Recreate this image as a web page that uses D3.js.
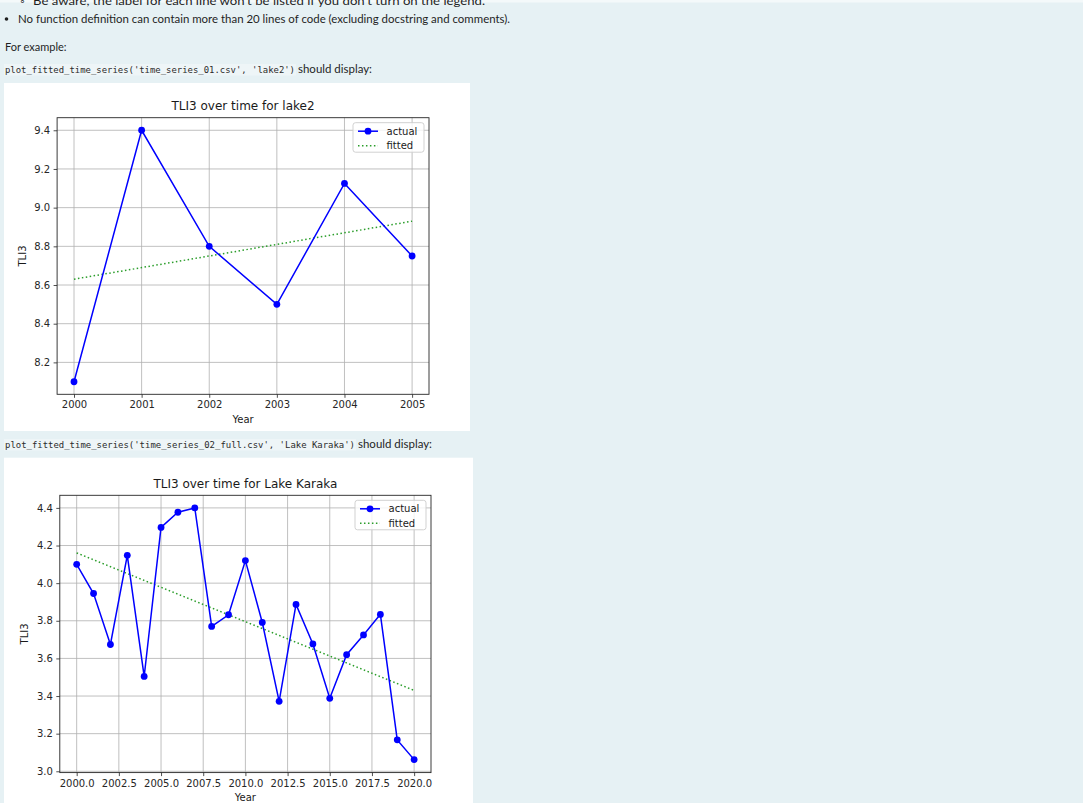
<!DOCTYPE html>
<html><head><meta charset="utf-8">
<script src="https://cdn.jsdelivr.net/npm/d3@7"></script>
<style>html,body{margin:0;padding:0;background:#e6f1f4;overflow:hidden}</style>
</head><body><svg id="c" width="1083" height="803"></svg>
<script>
// ---- Chart 1 data (lake2) ----
const years1 = [2000, 2001, 2002, 2003, 2004, 2005];
const actual1 = [8.1, 9.4, 8.8, 8.5, 9.125, 8.75];
const fittedYears1 = [2000, 2005];
const fitted1 = [8.63, 8.93];
const xTicks1 = [2000, 2001, 2002, 2003, 2004, 2005];
const xTickLabels1 = ["2000", "2001", "2002", "2003", "2004", "2005"];
const yTicks1 = [8.2, 8.4, 8.6, 8.8, 9.0, 9.2, 9.4];
const yTickLabels1 = ["8.2", "8.4", "8.6", "8.8", "9.0", "9.2", "9.4"];

// ---- Chart 2 data (Lake Karaka) ----
const years2 = [2000, 2001, 2002, 2003, 2004, 2005, 2006, 2007, 2008, 2009, 2010,
                2011, 2012, 2013, 2014, 2015, 2016, 2017, 2018, 2019, 2020];
const actual2 = [4.10, 3.945, 3.674, 4.148, 3.504, 4.296, 4.377, 4.40, 3.77, 3.832, 4.12,
                 3.791, 3.372, 3.887, 3.677, 3.388, 3.62, 3.725, 3.834, 3.167, 3.062];
const fittedYears2 = [2000, 2020];
const fitted2 = [4.161, 3.43];
const xTicks2 = [2000, 2002.5, 2005, 2007.5, 2010, 2012.5, 2015, 2017.5, 2020];
const xTickLabels2 = ["2000.0", "2002.5", "2005.0", "2007.5", "2010.0", "2012.5", "2015.0", "2017.5", "2020.0"];
const yTicks2 = [3.0, 3.2, 3.4, 3.6, 3.8, 4.0, 4.2, 4.4];
const yTickLabels2 = ["3.0", "3.2", "3.4", "3.6", "3.8", "4.0", "4.2", "4.4"];

const legendLabels = ["actual", "fitted"];

const svg = d3.select("#c");
svg.append("rect").attr("width", 1083).attr("height", 803).attr("fill", "#e6f1f4");
svg.append("rect").attr("width", 1083).attr("height", 2.5).attr("fill", "#f4f9fa");

const bodyFont = "Lato, 'Open Sans', sans-serif";
const monoFont = "'DejaVu Sans Mono', 'Liberation Mono', monospace";
const txtColor = "#1f1f1f";

// page text
svg.append("text").attr("x", 20).attr("y", 4.5).attr("font-family", bodyFont).attr("font-size", 11)
  .attr("fill", txtColor).text("◦");
svg.append("text").attr("x", 33).attr("y", 4.5).attr("font-family", bodyFont).attr("font-size", 11)
  .attr("fill", txtColor).attr("textLength", 452).attr("lengthAdjust", "spacingAndGlyphs")
  .text("Be aware, the label for each line won't be listed if you don't turn on the legend.");
svg.append("circle").attr("cx", 6.5).attr("cy", 19).attr("r", 1.8).attr("fill", txtColor);
svg.append("text").attr("x", 18).attr("y", 23).attr("font-family", bodyFont).attr("font-size", 11)
  .attr("fill", txtColor).attr("textLength", 492).attr("lengthAdjust", "spacingAndGlyphs")
  .text("No function definition can contain more than 20 lines of code (excluding docstring and comments).");
svg.append("text").attr("x", 5).attr("y", 51).attr("font-family", bodyFont).attr("font-size", 11)
  .attr("fill", txtColor)
  .text("For example:");

function codeLine(y, code, codeW, rest) {
  svg.append("rect").attr("x", 4).attr("y", y - 8.5).attr("width", codeW + 2).attr("height", 11.5)
    .attr("fill", "#eef5f7");
  svg.append("text").attr("x", 5).attr("y", y).attr("font-family", monoFont).attr("font-size", 9)
    .attr("fill", "#2b2b2b").attr("textLength", codeW).attr("lengthAdjust", "spacingAndGlyphs").text(code);
  svg.append("text").attr("x", 5 + codeW + 3).attr("y", y).attr("font-family", bodyFont).attr("font-size", 11)
    .attr("fill", txtColor).attr("textLength", 74).attr("lengthAdjust", "spacingAndGlyphs").text(rest);
}
codeLine(72.5, "plot_fitted_time_series('time_series_01.csv', 'lake2')", 290, "should display:");
codeLine(447.5, "plot_fitted_time_series('time_series_02_full.csv', 'Lake Karaka')", 350, "should display:");

function drawChart(cfg) {
  const g = svg.append("g");
  g.append("rect").attr("x", cfg.box[0]).attr("y", cfg.box[1]).attr("width", cfg.box[2]).attr("height", cfg.box[3])
    .attr("fill", "#ffffff");
  const [pl, pt, pr, pb] = cfg.plot;
  const x = d3.scaleLinear().domain(cfg.xDomain).range([pl, pr]);
  const y = d3.scaleLinear().domain(cfg.yDomain).range([pb, pt]);

  // grid
  g.append("g").selectAll("line").data(cfg.xTicks).join("line")
    .attr("x1", d => x(d)).attr("x2", d => x(d)).attr("y1", pt).attr("y2", pb)
    .attr("stroke", "#b0b0b0").attr("stroke-width", 0.8);
  g.append("g").selectAll("line").data(cfg.yTicks).join("line")
    .attr("x1", pl).attr("x2", pr).attr("y1", d => y(d)).attr("y2", d => y(d))
    .attr("stroke", "#b0b0b0").attr("stroke-width", 0.8);

  // axes
  const xa = g.append("g").attr("transform", `translate(0,${pb})`)
    .call(d3.axisBottom(x).tickValues(cfg.xTicks).tickFormat((d, i) => cfg.xLabels[i])
      .tickSize(3.5).tickPadding(3.5));
  const ya = g.append("g").attr("transform", `translate(${pl},0)`)
    .call(d3.axisLeft(y).tickValues(cfg.yTicks).tickFormat((d, i) => cfg.yLabels[i])
      .tickSize(3.5).tickPadding(3.5));
  [xa, ya].forEach(a => {
    a.select(".domain").remove();
    a.attr("font-family", "'DejaVu Sans', sans-serif").attr("font-size", 10).attr("color", "#222");
    a.selectAll("line").attr("stroke-width", 0.8);
    a.selectAll("text").attr("fill", "#262626");
  });

  const line = d3.line().x(d => x(d[0])).y(d => y(d[1]));
  // fitted
  g.append("path").datum(cfg.fittedYears.map((d, i) => [d, cfg.fitted[i]]))
    .attr("d", line).attr("fill", "none").attr("stroke", "#2a9d2a").attr("stroke-width", 1.5)
    .attr("stroke-dasharray", "1.5,2.475");
  // actual
  const pts = cfg.years.map((d, i) => [d, cfg.actual[i]]);
  g.append("path").datum(pts).attr("d", line).attr("fill", "none")
    .attr("stroke", "#0000ff").attr("stroke-width", 1.5);
  g.append("g").selectAll("circle").data(pts).join("circle")
    .attr("cx", d => x(d[0])).attr("cy", d => y(d[1])).attr("r", 3.4).attr("fill", "#0000ff");

  // spines
  g.append("rect").attr("x", pl).attr("y", pt).attr("width", pr - pl).attr("height", pb - pt)
    .attr("fill", "none").attr("stroke", "#262626").attr("stroke-width", 0.9);

  // title
  g.append("text").attr("x", (pl + pr) / 2).attr("y", pt - 7.5).attr("text-anchor", "middle")
    .attr("font-family", "'DejaVu Sans', sans-serif").attr("font-size", 12).attr("fill", "#1a1a1a")
    .text(cfg.title);
  // axis labels
  g.append("text").attr("x", (pl + pr) / 2).attr("y", pb + 28.7).attr("text-anchor", "middle")
    .attr("font-family", "'DejaVu Sans', sans-serif").attr("font-size", 10).attr("fill", "#1a1a1a")
    .text("Year");
  g.append("text").attr("transform", `translate(${pl - 31.5},${(pt + pb) / 2}) rotate(-90)`)
    .attr("text-anchor", "middle")
    .attr("font-family", "'DejaVu Sans', sans-serif").attr("font-size", 10).attr("fill", "#1a1a1a")
    .text("TLI3");

  // legend
  const lw = 71, lh = 29.5;
  const lx = pr - 5 - lw, ly = pt + 5;
  const lg = g.append("g");
  lg.append("rect").attr("x", lx).attr("y", ly).attr("width", lw).attr("height", lh).attr("rx", 2.5)
    .attr("fill", "#ffffff").attr("fill-opacity", 0.8).attr("stroke", "#cccccc").attr("stroke-width", 0.9);
  const hx0 = lx + 5, hx1 = lx + 25;
  const r1 = ly + 8.5, r2 = ly + 23;
  lg.append("line").attr("x1", hx0).attr("x2", hx1).attr("y1", r1).attr("y2", r1)
    .attr("stroke", "#0000ff").attr("stroke-width", 1.5);
  lg.append("circle").attr("cx", (hx0 + hx1) / 2).attr("cy", r1).attr("r", 3.4).attr("fill", "#0000ff");
  lg.append("line").attr("x1", hx0).attr("x2", hx1).attr("y1", r2).attr("y2", r2)
    .attr("stroke", "#2a9d2a").attr("stroke-width", 1.5).attr("stroke-dasharray", "1.5,2.475");
  [r1, r2].forEach((ry, i) => {
    lg.append("text").attr("x", hx1 + 8.5).attr("y", ry).attr("dy", "0.35em")
      .attr("font-family", "'DejaVu Sans', sans-serif").attr("font-size", 10).attr("fill", "#1a1a1a")
      .text(legendLabels[i]);
  });
}

drawChart({
  box: [4, 83, 466, 348],
  plot: [57.1, 117.7, 429, 394.3],
  xDomain: [1999.75, 2005.25], yDomain: [8.035, 9.465],
  years: years1, actual: actual1, fittedYears: fittedYears1, fitted: fitted1,
  xTicks: xTicks1, xLabels: xTickLabels1, yTicks: yTicks1, yLabels: yTickLabels1,
  title: "TLI3 over time for lake2"
});
drawChart({
  box: [4, 457.7, 469, 360],
  plot: [59.8, 495.3, 431, 772.6],
  xDomain: [1999, 2021], yDomain: [2.993, 4.467],
  years: years2, actual: actual2, fittedYears: fittedYears2, fitted: fitted2,
  xTicks: xTicks2, xLabels: xTickLabels2, yTicks: yTicks2, yLabels: yTickLabels2,
  title: "TLI3 over time for Lake Karaka"
});
</script></body></html>
